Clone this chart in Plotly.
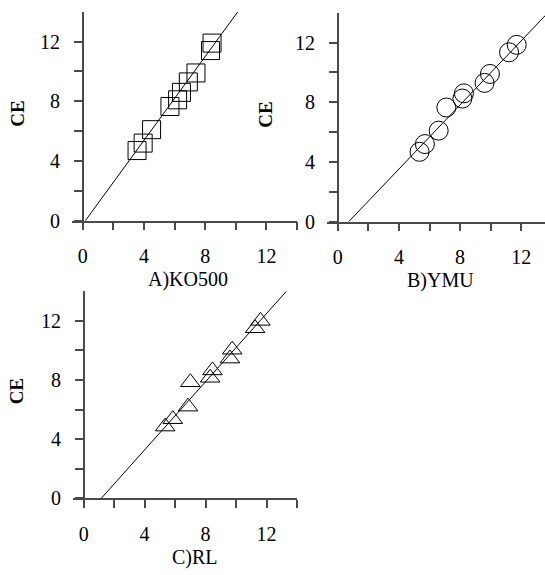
import plotly.graph_objects as go

W, H = 545, 575

# ---- data ----
A_x = [3.55, 3.95, 4.5, 5.7, 6.2, 6.45, 6.9, 7.4, 8.35, 8.45]
A_y = [4.7, 5.2, 6.1, 7.65, 8.1, 8.6, 9.3, 9.9, 11.4, 11.9]

B_x = [5.35, 5.7, 6.6, 7.1, 8.15, 8.25, 9.6, 9.95, 11.2, 11.7]
B_y = [4.68, 5.2, 6.1, 7.65, 8.25, 8.6, 9.3, 9.9, 11.35, 11.85]

C_x = [5.35, 5.85, 6.85, 7.0, 8.3, 8.45, 9.6, 9.75, 11.25, 11.6]
C_y = [4.85, 5.35, 6.2, 7.85, 8.15, 8.65, 9.45, 10.05, 11.5, 12.0]

# fitted lines: y = slope * (x - x_intercept)
A_slope, A_x0 = 1.405, 0.17
B_slope, B_x0 = 1.075, 0.72
C_slope, C_x0 = 1.153, 1.16

tick_vals = [0, 2, 4, 6, 8, 10, 12, 14]
tick_text = ["0", "", "4", "", "8", "", "12", ""]
ytick_vals = [0, 2, 4, 6, 8, 10, 12]
ytick_text = ["0", "", "4", "", "8", "", "12"]

titles = ["A)KO500", "B)YMU", "C)RL"]
ylabel = "CE"

# ---- layout geometry in pixels ----
panels = [
    dict(xl=72, xr=297, xmax=14.0, yax=82.7, y0=225, yt=12, tx=188, lx=18),
    dict(xl=327, xr=545, xmax=13.55, yax=337.7, y0=226, yt=13, tx=440, lx=266),
    dict(xl=73, xr=297, xmax=14.0, yax=83.7, y0=508, yt=297, tx=195, lx=16),
]

FONT = "Liberation Serif, Times New Roman, serif"
AX = "#4a4a4a"

fig = go.Figure()

data = [(A_x, A_y, "square-open", A_slope, A_x0, 18),
        (B_x, B_y, "circle-open", B_slope, B_x0, 19),
        (C_x, C_y, "triangle-up-open", C_slope, C_x0, 17)]

for i, ((xs, ys, sym, slope, x0, msize), p) in enumerate(zip(data, panels)):
    n = "" if i == 0 else str(i + 1)
    xa, ya = "x" + n, "y" + n
    ymax = 14.0
    x_top = x0 + ymax / slope
    fig.add_trace(go.Scatter(
        x=[x0, x_top], y=[0, ymax], mode="lines",
        line=dict(color="black", width=1), xaxis=xa, yaxis=ya,
        showlegend=False, hoverinfo="skip"))
    fig.add_trace(go.Scatter(
        x=xs, y=ys, mode="markers",
        marker=dict(symbol=sym, size=msize, color="black",
                    line=dict(color="black", width=1)),
        xaxis=xa, yaxis=ya, showlegend=False))

    xdom = [p["xl"] / W, p["xr"] / W]
    ydom = [1 - p["y0"] / H, 1 - p["yt"] / H]
    fig.layout["xaxis" + n] = dict(
        domain=xdom, range=[-0.7, p["xmax"]], anchor=ya,
        showline=True, linecolor=AX, linewidth=1.5,
        showgrid=False, zeroline=False,
        ticks="outside", ticklen=8, tickwidth=1.5, tickcolor=AX,
        tickvals=tick_vals, ticktext=tick_text, ticklabelstandoff=9,
        tickfont=dict(family=FONT, size=20, color="black"))
    fig.layout["yaxis" + n] = dict(
        domain=ydom, range=[0, 14], anchor="free", position=p["yax"] / W,
        showline=True, linecolor=AX, linewidth=1.5,
        showgrid=False, zeroline=False,
        ticks="outside", ticklen=8, tickwidth=1.5, tickcolor=AX,
        tickvals=ytick_vals, ticktext=ytick_text, ticklabelstandoff=10,
        tickfont=dict(family=FONT, size=20, color="black"))

    fig.add_annotation(text=titles[i], xref="paper", yref="paper",
                       x=p["tx"] / W, y=1 - (p["y0"] + 60) / H,
                       showarrow=False, xanchor="center", yanchor="middle",
                       font=dict(family=FONT, size=20, color="black"))
    fig.add_annotation(text="<b>%s</b>" % ylabel, xref="paper", yref="paper",
                       x=p["lx"] / W, y=1 - (p["y0"] - 109) / H,
                       showarrow=False, textangle=-90,
                       xanchor="center", yanchor="middle",
                       font=dict(family=FONT, size=19, color="black"))

fig.update_layout(width=W, height=H, margin=dict(l=0, r=0, t=0, b=0),
                  plot_bgcolor="white", paper_bgcolor="white")

fig.write_html("out.html", config={"displayModeBar": False},
               post_script="document.body.style.margin='0';"
                           "document.body.style.overflow='hidden';")
